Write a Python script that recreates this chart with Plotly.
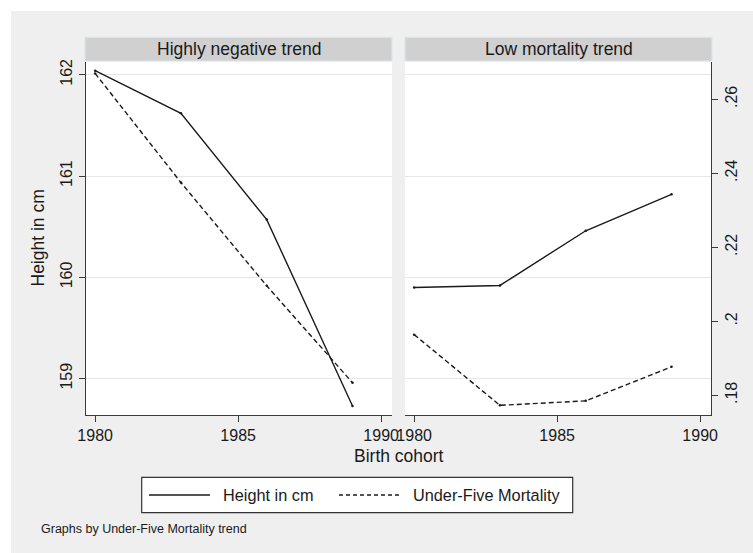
import plotly.graph_objects as go

# ---- data ----
years = [1980, 1983, 1986, 1989]
panels = ["Highly negative trend", "Low mortality trend"]
height_neg = [162.04, 161.62, 160.57, 158.73]
mort_neg = [0.267, 0.2375, 0.2096, 0.1834]
height_low = [159.90, 159.92, 160.46, 160.82]
mort_low = [0.1964, 0.1773, 0.1785, 0.1877]
height_ticks = [159, 160, 161, 162]
mort_ticks = [0.18, 0.20, 0.22, 0.24, 0.26]
mort_ticktext = [".18", ".2", ".22", ".24", ".26"]
year_ticks = [1980, 1985, 1990]
series_names = ["Height in cm", "Under-Five Mortality"]

W, H = 753, 553
FONT = "Liberation Sans, Arial, sans-serif"
BG = "#efefef"
INK = "#1a1a1a"
AX = "#3a3a3a"


def px(x):
    return x / W


def py(y):
    return 1 - y / H


x1dom = [px(86), px(392)]
x2dom = [px(405), px(711)]
ydom = [py(415), py(61.5)]
xrange_ = [1979.68, 1990.38]
yrange_h = [158.641, 162.131]
yrange_m = [0.17468, 0.27022]

fig = go.Figure()

solid = dict(color=INK, width=1.4)
dashed = dict(color=INK, width=1.4, dash="5px,3px")
mk = dict(size=2.5, color=INK)

fig.add_trace(go.Scatter(x=years, y=height_neg, mode="lines+markers", line=solid, marker=mk,
                         name=series_names[0], xaxis="x", yaxis="y", showlegend=False))
fig.add_trace(go.Scatter(x=years, y=mort_neg, mode="lines+markers", line=dashed, marker=mk,
                         name=series_names[1], xaxis="x", yaxis="y2", showlegend=False))
fig.add_trace(go.Scatter(x=years, y=height_low, mode="lines+markers", line=solid, marker=mk,
                         name=series_names[0], xaxis="x2", yaxis="y3", showlegend=False))
fig.add_trace(go.Scatter(x=years, y=mort_low, mode="lines+markers", line=dashed, marker=mk,
                         name=series_names[1], xaxis="x2", yaxis="y4", showlegend=False))

tickfont = dict(family=FONT, size=16, color=INK)

xcommon = dict(range=xrange_, tickvals=year_ticks, ticks="outside", ticklen=6, tickcolor=AX,
               tickwidth=1.2, showline=True, linecolor=AX, linewidth=1.3, showgrid=False,
               zeroline=False, tickfont=tickfont, automargin=False, fixedrange=True)

fig.update_layout(
    width=W, height=H,
    margin=dict(l=0, r=0, t=0, b=0),
    paper_bgcolor=BG, plot_bgcolor="white",
    xaxis=dict(domain=x1dom, anchor="y", **xcommon),
    xaxis2=dict(domain=x2dom, anchor="y3", **xcommon),
    yaxis=dict(domain=ydom, anchor="x", range=yrange_h, tickvals=height_ticks,
               ticks="outside", ticklen=6, tickcolor=AX, tickwidth=1.2, tickangle=-90,
               showline=True, linecolor=AX, linewidth=1.3, showgrid=True,
               gridcolor="#e6e6e6", gridwidth=1.2, zeroline=False, tickfont=tickfont,
               automargin=False, fixedrange=True),
    yaxis2=dict(overlaying="y", anchor="x", side="right", range=yrange_m,
                showticklabels=False, ticks="", showline=False, showgrid=False,
                zeroline=False, automargin=False, fixedrange=True),
    yaxis3=dict(domain=ydom, anchor="x2", range=yrange_h, tickvals=height_ticks,
                showticklabels=False, ticks="", showline=False, showgrid=True,
                gridcolor="#e6e6e6", gridwidth=1.2, zeroline=False,
                automargin=False, fixedrange=True),
    yaxis4=dict(overlaying="y3", anchor="x2", side="right", range=yrange_m,
                tickvals=mort_ticks, ticktext=mort_ticktext, ticks="outside", ticklen=6,
                tickcolor=AX, tickwidth=1.2, tickangle=-90, showline=True, linecolor=AX,
                linewidth=1.3, showgrid=False, zeroline=False, tickfont=tickfont,
                automargin=False, fixedrange=True),
)

shapes = []
# white outer margins (top and left)
shapes.append(dict(type="rect", xref="paper", yref="paper", x0=0, x1=1, y0=py(11), y1=1,
                   fillcolor="white", line=dict(width=0), layer="below"))
shapes.append(dict(type="rect", xref="paper", yref="paper", x0=0, x1=px(11), y0=0, y1=1,
                   fillcolor="white", line=dict(width=0), layer="below"))
# panel strips
for (a, b) in [(85, 392), (405, 712)]:
    shapes.append(dict(type="rect", xref="paper", yref="paper", x0=px(a), x1=px(b),
                       y0=py(61), y1=py(37.3), fillcolor="#d0d0d0",
                       line=dict(color="#dce4e8", width=1.2)))
# legend box and samples
shapes.append(dict(type="rect", xref="paper", yref="paper", x0=px(141.7), x1=px(572.7),
                   y0=py(512.7), y1=py(477.3), fillcolor="white",
                   line=dict(color="#333333", width=1.2)))
shapes.append(dict(type="line", xref="paper", yref="paper", x0=px(149), x1=px(210),
                   y0=py(495), y1=py(495), line=solid))
shapes.append(dict(type="line", xref="paper", yref="paper", x0=px(339), x1=px(402),
                   y0=py(495), y1=py(495), line=dict(color=INK, width=1.4, dash="4px,3px")))
fig.update_layout(shapes=shapes)

ann = []
for (cx, t) in [((85 + 392) / 2, panels[0]), ((405 + 712) / 2, panels[1])]:
    ann.append(dict(x=px(cx), y=py(49), xref="paper", yref="paper", text=t, showarrow=False,
                    font=dict(family=FONT, size=17.5, color=INK), xanchor="center", yanchor="middle"))
ann.append(dict(x=px(37.5), y=py(238), xref="paper", yref="paper", text="Height in cm",
                showarrow=False, textangle=-90, font=dict(family=FONT, size=17.5, color=INK),
                xanchor="center", yanchor="middle"))
ann.append(dict(x=px(398.5), y=py(456), xref="paper", yref="paper", text="Birth cohort",
                showarrow=False, font=dict(family=FONT, size=17.5, color=INK),
                xanchor="center", yanchor="middle"))
ann.append(dict(x=px(221), y=py(495), xref="paper", yref="paper", text=series_names[0],
                showarrow=False, font=dict(family=FONT, size=16.3, color=INK),
                xanchor="left", yanchor="middle"))
ann.append(dict(x=px(411), y=py(495), xref="paper", yref="paper", text=series_names[1],
                showarrow=False, font=dict(family=FONT, size=16.3, color=INK),
                xanchor="left", yanchor="middle"))
ann.append(dict(x=px(39), y=py(529), xref="paper", yref="paper",
                text="Graphs by Under-Five Mortality trend", showarrow=False,
                font=dict(family=FONT, size=12.5, color=INK), xanchor="left", yanchor="middle"))
fig.update_layout(annotations=ann)

fig.write_html("out.html", config={"displayModeBar": False},
               post_script="document.body.style.margin='0';document.body.style.padding='0';")
